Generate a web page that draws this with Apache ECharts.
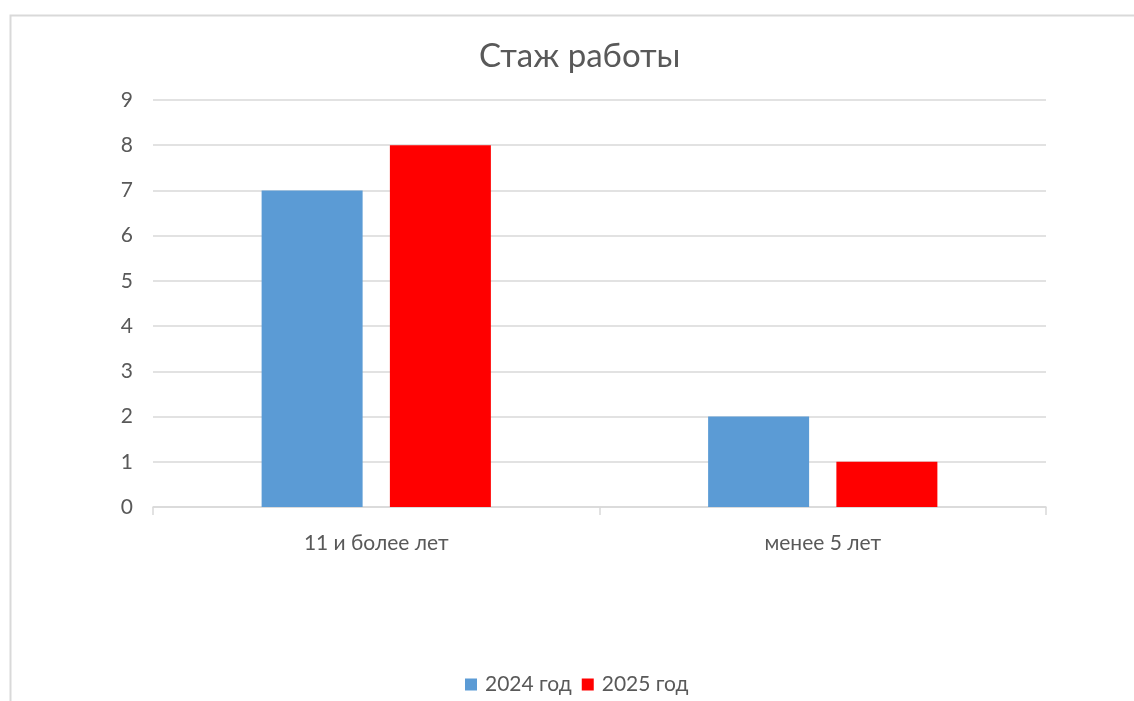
<!DOCTYPE html>
<html><head><meta charset="utf-8">
<script src="https://cdn.jsdelivr.net/npm/echarts@6/dist/echarts.min.js"></script>
<style>html,body{margin:0;padding:0;background:#fff}#c{width:1134px;height:701px}</style>
</head><body><div id="c"></div>
<script>
const categories = ['11 и более лет', 'менее 5 лет'];
const series2024 = [7, 2];
const series2025 = [8, 1];
const seriesNames = ['2024 год', '2025 год'];
const chart = echarts.init(document.getElementById('c'));
const font = 'Lato, Carlito, "Open Sans", sans-serif';
chart.setOption({
  animation: false,
  graphic: [{type:'rect', left:8, top:13, shape:{width:1300, height:900}, style:{fill:'none', stroke:'#d9d9d9', lineWidth:2}, silent:true}],
  title: {text:'Стаж работы', left:474, top:35, textStyle:{fontFamily:font, fontSize:33, fontWeight:'normal', color:'#595959'}},
  legend: {top:669, left:460, itemWidth:12, itemHeight:12, itemGap:10, icon:'rect', textStyle:{fontFamily:font, fontSize:21, color:'#595959', padding:[0,0,0,3]}, data: seriesNames},
  grid: {left:153, right:88, top:100, bottom:194, containLabel:false},
  xAxis: {type:'category', data:categories, axisLine:{lineStyle:{color:'#d9d9d9', width:1.5}}, axisTick:{show:true, length:8, lineStyle:{color:'#d9d9d9', width:1.5}}, axisLabel:{fontFamily:font, fontSize:21, color:'#595959', margin:26}},
  yAxis: {type:'value', min:0, max:9, interval:1, axisLine:{show:false}, axisTick:{show:false}, splitLine:{lineStyle:{color:'#d9d9d9', width:1.5}}, axisLabel:{fontFamily:font, fontSize:21, color:'#595959', margin:20}},
  series: [
    {name:seriesNames[0], type:'bar', data:series2024, barWidth:101, barGap:'27%', itemStyle:{color:'#5b9bd5'}},
    {name:seriesNames[1], type:'bar', data:series2025, barWidth:101, itemStyle:{color:'#ff0000'}}
  ]
});
</script></body></html>
